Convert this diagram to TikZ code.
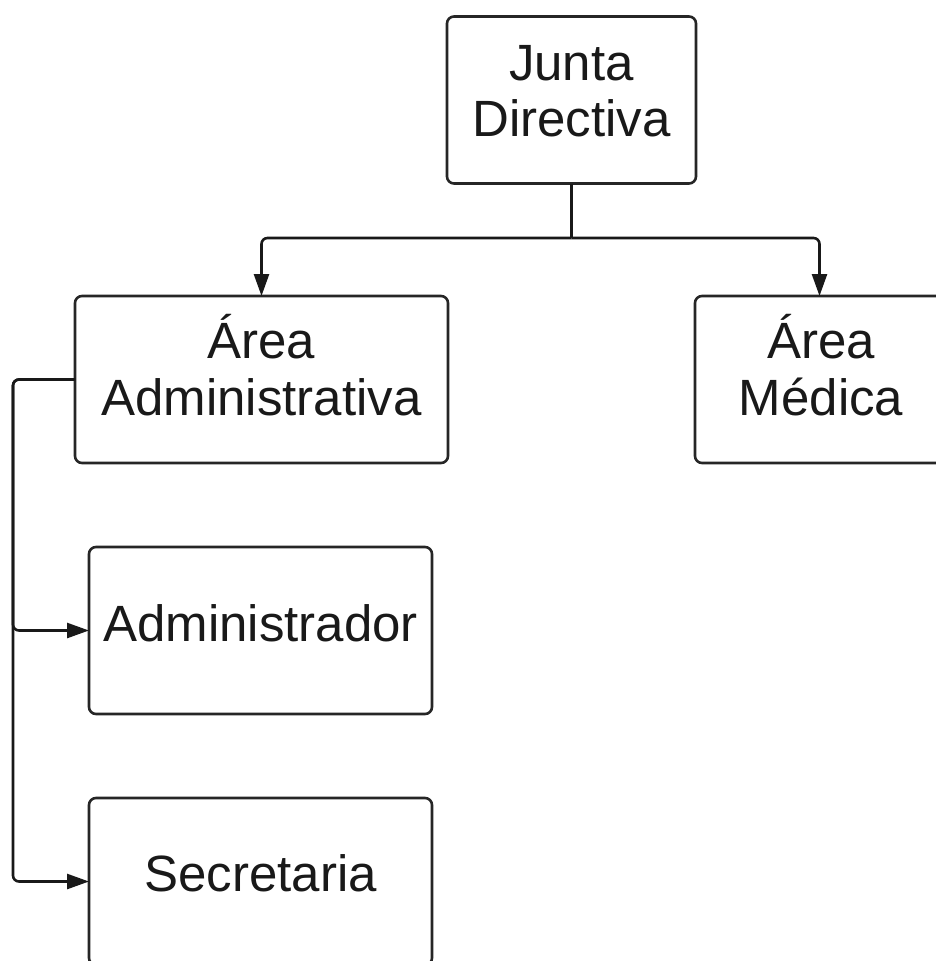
\documentclass[tikz,border=0pt]{standalone}
\usepackage{fontspec}
\setmainfont{Liberation Sans}
\usetikzlibrary{arrows.meta}
\begin{document}
\begin{tikzpicture}[x=1pt,y=-1pt,
  box/.style={draw=black!85, line width=2.6pt, rounded corners=7pt, fill=white,
    minimum width=#1, minimum height=167pt, inner sep=0pt, outer sep=0pt},
  lbl/.style={font=\fontsize{51}{57}\selectfont, anchor=base, inner sep=0pt, text=black!90},
  conn/.style={line width=2.6pt, draw=black!90, rounded corners=6pt,
    -{Triangle[length=22pt,width=15pt]}},
  plain/.style={line width=2.6pt, draw=black!90, rounded corners=6pt}]
\useasboundingbox (0,0) rectangle (936,961);
\clip (0,0) rectangle (936,961);
\fill[white] (0,0) rectangle (936,961);
% boxes
\node[box=249pt] (jd) at (571.5,100) {};
\node[box=373pt] (aa) at (261.5,379.5) {};
\node[box=249pt] (am) at (819.5,379.5) {};
\node[box=343pt] (adm) at (260.5,630.5) {};
\node[box=343pt] (sec) at (260.5,881.5) {};
% labels
\node[lbl] (jd1) at (571.5,80) {Junta};
\node[lbl] (jd2) at (571.5,136) {Directiva};
\node[lbl] (aa1) at (261.5,358) {Área};
\node[lbl] (aa2) at (261.5,415) {Administrativa};
\node[lbl] (am1) at (821,358) {Área};
\node[lbl] (am2) at (821,415) {Médica};
\node[lbl] (adm1) at (260.5,641) {Administrador};
\node[lbl] (sec1) at (260.5,891) {Secretaria};
% connectors
\coordinate (split) at (571.5,238);
\coordinate (lrail) at (13,379.5);
\draw[plain] (jd.south) -- (split);
\draw[conn] (split) -| (aa.north);
\draw[conn] (split) -| (am.north);
\draw[conn] (aa.west) -- (lrail) |- (adm.west);
\draw[conn] (aa.west) -- (lrail) |- (sec.west);
\end{tikzpicture}
\end{document}
